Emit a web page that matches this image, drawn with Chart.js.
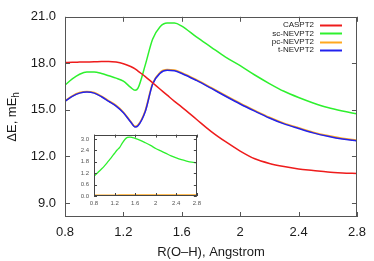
<!DOCTYPE html>
<html>
<head>
<meta charset="utf-8">
<script src="https://cdn.jsdelivr.net/npm/chart.js@4"></script>
<style>
  body { margin: 0; background: #fff; }
  #wrap { position: relative; width: 374px; height: 261px; }
  #main { position: absolute; left: 0; top: 0; }
  #inset { position: absolute; left: 70px; top: 126px; }
</style>
</head>
<body>
<div id="wrap">
  <canvas id="main" width="374" height="261"></canvas>
  <canvas id="inset" width="135" height="86"></canvas>
</div>
<script>
// bond length grid, Angstrom
const rOH = [0.8, 0.85, 0.9, 0.95, 1.0, 1.05, 1.1, 1.15, 1.2, 1.25, 1.28, 1.3, 1.35, 1.4, 1.45, 1.5, 1.55, 1.6, 1.7, 1.8, 1.9, 2.0, 2.1, 2.2, 2.3, 2.4, 2.5, 2.6, 2.7, 2.8];

const caspt2   = [18.05, 18.07, 18.08, 18.09, 18.1, 18.12, 18.12, 18.08, 17.98, 17.8, 17.65, 17.5, 17.15, 16.75, 16.35, 15.95, 15.55, 15.18, 14.4, 13.62, 12.95, 12.35, 11.85, 11.55, 11.35, 11.2, 11.1, 11.0, 10.94, 10.9];
const scNevpt2 = [16.6, 17.0, 17.3, 17.45, 17.45, 17.35, 17.2, 17.05, 16.85, 16.45, 16.26, 16.4, 17.9, 19.55, 20.35, 20.6, 20.6, 20.4, 19.7, 19.05, 18.4, 17.85, 17.25, 16.7, 16.2, 15.8, 15.45, 15.15, 14.93, 14.75];
const pcNevpt2 = [15.58, 15.9, 16.11, 16.18, 16.11, 15.88, 15.58, 15.28, 14.85, 14.25, 13.93, 14.02, 14.95, 16.7, 17.4, 17.59, 17.56, 17.39, 16.94, 16.44, 15.92, 15.42, 14.96, 14.52, 14.14, 13.84, 13.56, 13.34, 13.16, 13.04];
const tNevpt2  = [15.55, 15.87, 16.08, 16.15, 16.08, 15.85, 15.55, 15.25, 14.82, 14.22, 13.9, 13.98, 14.9, 16.65, 17.35, 17.55, 17.52, 17.35, 16.9, 16.4, 15.88, 15.38, 14.92, 14.48, 14.1, 13.8, 13.52, 13.3, 13.12, 13.0];

// inset: differences vs t-NEVPT2
const insetSc = [1.04, 1.17, 1.3, 1.43, 1.57, 1.73, 1.9, 2.07, 2.25, 2.42, 2.5, 2.56, 2.78, 2.97, 3.08, 3.1, 3.07, 3.03, 2.93, 2.8, 2.66, 2.5, 2.37, 2.24, 2.11, 2.0, 1.91, 1.84, 1.78, 1.74];
const insetPc = [0.03, 0.03, 0.03, 0.03, 0.03, 0.03, 0.03, 0.03, 0.03, 0.03, 0.04, 0.04, 0.05, 0.05, 0.05, 0.04, 0.04, 0.04, 0.04, 0.04, 0.04, 0.04, 0.04, 0.04, 0.04, 0.04, 0.04, 0.04, 0.04, 0.04];

const xTicks = [0.8, 1.2, 1.6, 2.0, 2.4, 2.8];
const yTicks = [9, 12, 15, 18, 21];
const insetYTicks = [0, 0.6, 1.2, 1.8, 2.4, 3.0];

Chart.defaults.font.family = "'Liberation Sans', Arial, sans-serif";

const pts = (arr) => arr.map((v, i) => ({ x: rOH[i], y: v }));
const fmtX = (v) => (v === 2 ? '2' : v.toFixed(1));

// box + inward ticks on all four sides, gnuplot style
const frame = {
  id: 'frame',
  afterDatasetsDraw(chart, args, opts) {
    const { ctx, chartArea: a, scales } = chart;
    ctx.save();
    ctx.strokeStyle = opts.color;
    ctx.lineWidth = 1;
    ctx.strokeRect(Math.round(a.left) + 0.5, Math.round(a.top) + 0.5, Math.round(a.right - a.left) - 1, Math.round(a.bottom - a.top) - 1);
    ctx.beginPath();
    scales.x.ticks.forEach(t => {
      const px = Math.round(scales.x.getPixelForValue(t.value)) + 0.5;
      ctx.moveTo(px, a.bottom); ctx.lineTo(px, a.bottom - opts.len);
      ctx.moveTo(px, a.top); ctx.lineTo(px, a.top + opts.len);
    });
    scales.y.ticks.forEach(t => {
      const py = Math.round(scales.y.getPixelForValue(t.value)) + 0.5;
      ctx.moveTo(a.left, py); ctx.lineTo(a.left + opts.len, py);
      ctx.moveTo(a.right, py); ctx.lineTo(a.right - opts.len, py);
    });
    ctx.stroke();
    ctx.restore();
  }
};

// axis titles and legend for the big plot
const extras = {
  id: 'extras',
  afterDraw(chart) {
    const { ctx, chartArea: a } = chart;
    ctx.save();
    ctx.fillStyle = '#1a1a1a';

    ctx.font = "13px 'Liberation Sans', Arial, sans-serif";
    ctx.textAlign = 'center';
    ctx.textBaseline = 'middle';
    ctx.fillText('R(O–H), Angstrom', (a.left + a.right) / 2, 252);

    // y title with subscript h
    ctx.translate(12, (a.top + a.bottom) / 2);
    ctx.rotate(-Math.PI / 2);
    const main = 'ΔE, mE';
    const w1 = ctx.measureText(main).width;
    ctx.font = "10px 'Liberation Sans', Arial, sans-serif";
    const w2 = ctx.measureText('h').width;
    const x0 = -(w1 + w2) / 2;
    ctx.textAlign = 'left';
    ctx.font = "13px 'Liberation Sans', Arial, sans-serif";
    ctx.fillText(main, x0, 0);
    ctx.font = "10px 'Liberation Sans', Arial, sans-serif";
    ctx.fillText('h', x0 + w1, 4);
    ctx.restore();

    // legend, text right aligned with sample line on the right
    ctx.save();
    ctx.font = "8px 'Liberation Sans', Arial, sans-serif";
    ctx.textAlign = 'right';
    ctx.textBaseline = 'middle';
    chart.data.datasets.forEach((ds, i) => {
      const yy = 25 + i * 8.4;
      ctx.fillStyle = '#1a1a1a';
      ctx.fillText(ds.label, 314, yy);
      ctx.strokeStyle = ds.borderColor;
      ctx.lineWidth = 2;
      ctx.beginPath();
      ctx.moveTo(320, Math.round(yy) + 0.5);
      ctx.lineTo(342, Math.round(yy) + 0.5);
      ctx.stroke();
    });
    ctx.restore();
  }
};

new Chart(document.getElementById('main'), {
  type: 'line',
  data: {
    datasets: [
      { label: 'CASPT2', data: pts(caspt2), borderColor: '#ee1c1c', borderWidth: 1.5, order: 0 },
      { label: 'sc-NEVPT2', data: pts(scNevpt2), borderColor: '#2ef02e', borderWidth: 1.5, order: 3 },
      { label: 'pc-NEVPT2', data: pts(pcNevpt2), borderColor: '#ffa820', borderWidth: 1.8, order: 2 },
      { label: 't-NEVPT2', data: pts(tNevpt2), borderColor: '#2222ee', borderWidth: 1.5, order: 1 }
    ]
  },
  options: {
    responsive: false,
    animation: false,
    devicePixelRatio: 1,
    layout: { padding: { top: 5, right: 12, left: 0, bottom: 0 } },
    elements: { point: { radius: 0 }, line: { cubicInterpolationMode: 'monotone' } },
    plugins: {
      legend: { display: false },
      tooltip: { enabled: false },
      frame: { color: '#555', len: 5 }
    },
    scales: {
      x: {
        type: 'linear', min: 0.8, max: 2.8,
        afterBuildTicks: s => { s.ticks = xTicks.map(v => ({ value: v })); },
        afterFit: s => { s.height = 44; },
        grid: { display: false, drawTicks: false },
        border: { display: false },
        ticks: { font: { size: 13 }, color: '#1a1a1a', padding: 8, maxRotation: 0, callback: v => fmtX(v) }
      },
      y: {
        min: 8.1, max: 21,
        afterBuildTicks: s => { s.ticks = yTicks.map(v => ({ value: v })); },
        afterFit: s => { s.width = 65; },
        grid: { display: false, drawTicks: false },
        border: { display: false },
        ticks: { font: { size: 13 }, color: '#1a1a1a', padding: 9, callback: v => v.toFixed(1) }
      }
    }
  },
  plugins: [frame, extras]
});

new Chart(document.getElementById('inset'), {
  type: 'line',
  data: {
    datasets: [
      { label: 'sc-NEVPT2', data: pts(insetSc), borderColor: '#2ef02e', borderWidth: 1.3 },
      { label: 'pc-NEVPT2', data: pts(insetPc), borderColor: '#ffa820', borderWidth: 1.8 }
    ]
  },
  options: {
    responsive: false,
    animation: false,
    devicePixelRatio: 1,
    layout: { padding: { top: 5, right: 7, left: 0, bottom: 0 } },
    elements: { point: { radius: 0 }, line: { cubicInterpolationMode: 'monotone' } },
    plugins: {
      legend: { display: false },
      tooltip: { enabled: false },
      frame: { color: '#444', len: 3 }
    },
    scales: {
      x: {
        type: 'linear', min: 0.8, max: 2.8,
        afterBuildTicks: s => { s.ticks = xTicks.map(v => ({ value: v })); },
        afterFit: s => { s.height = 16; },
        grid: { display: false, drawTicks: false },
        border: { display: false },
        ticks: { font: { size: 6 }, color: '#555', padding: 4, maxRotation: 0, callback: v => fmtX(v) }
      },
      y: {
        min: 0, max: 3.23,
        afterBuildTicks: s => { s.ticks = insetYTicks.map(v => ({ value: v })); },
        afterFit: s => { s.width = 24; },
        grid: { display: false, drawTicks: false },
        border: { display: false },
        ticks: { font: { size: 6 }, color: '#555', padding: 5, callback: v => v.toFixed(1) }
      }
    }
  },
  plugins: [frame]
});
</script>
</body>
</html>
